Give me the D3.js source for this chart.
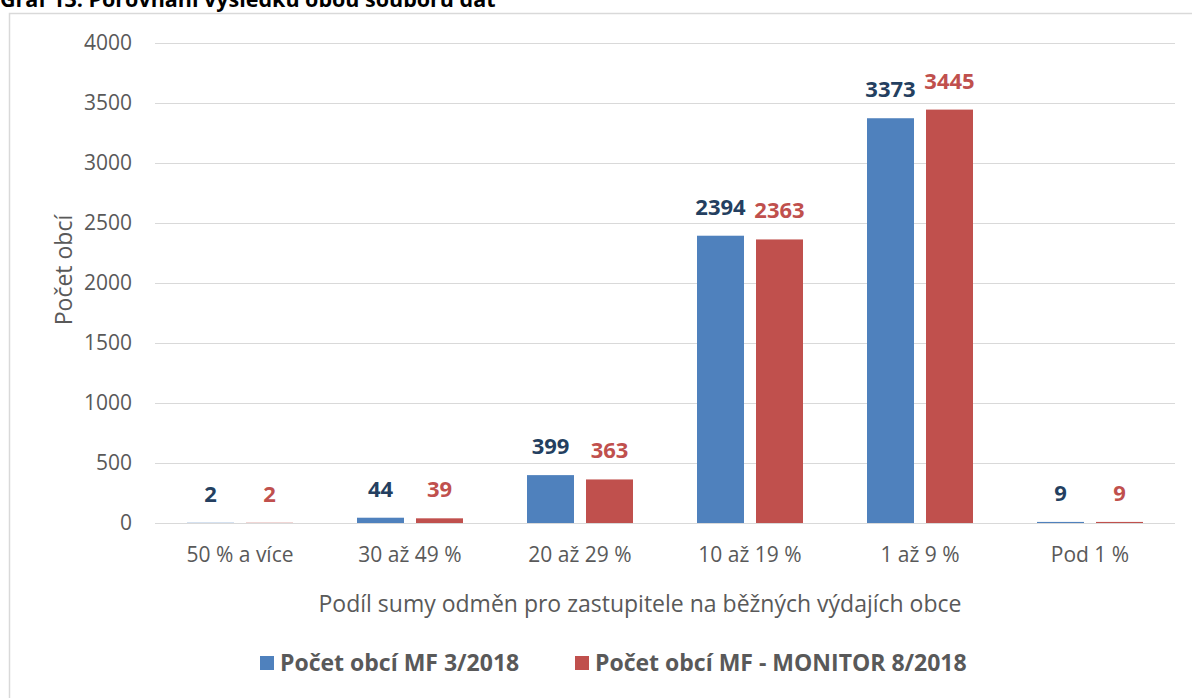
<!DOCTYPE html>
<html><head><meta charset="utf-8">
<script src="https://cdn.jsdelivr.net/npm/d3@7"></script>
<style>body{margin:0;background:#fff;overflow:hidden}</style>
</head><body>
<svg id="c" width="1192" height="698"></svg>
<script>
const categories = ["50 % a více","30 až 49 %","20 až 29 %","10 až 19 %","1 až 9 %","Pod 1 %"];
const seriesNames = ["Počet obcí MF 3/2018","Počet obcí MF - MONITOR 8/2018"];
const mf2018 = [2,44,399,2394,3373,9];
const monitor2018 = [2,39,363,2363,3445,9];
const yTicks = [0,500,1000,1500,2000,2500,3000,3500,4000];
const barColors = ["#4F81BD","#C0504D"];
const labelColors = ["#243F60","#C0504D"];
const FONT = "'Open Sans', sans-serif";

const svg = d3.select("#c");
// title (cut at top)
svg.append("text").attr("x",0).attr("y",7).attr("font-family",FONT).attr("font-weight","bold")
  .attr("font-size",21.5).attr("fill","#000").text("Graf 13: Porovnání výsledků obou souborů dat");
// chart border
svg.append("rect").attr("x",9.5).attr("y",13.5).attr("width",1200).attr("height",700)
  .attr("fill","none").attr("stroke","#d9d9d9").attr("stroke-width",1.5);

const x0 = d3.scaleBand().domain(categories).range([155,1175]).paddingInner(0).paddingOuter(0);
const y = d3.scaleLinear().domain([0,4000]).range([523,43]);
const bw = 47, gap = 12;
const x1 = d3.scaleOrdinal().domain([0,1]).range([-(gap/2+bw), gap/2]);

// gridlines
svg.append("g").selectAll("line").data(yTicks).join("line")
  .attr("x1",155).attr("x2",1175).attr("y1",d=>y(d)+0.5).attr("y2",d=>y(d)+0.5)
  .attr("stroke","#d9d9d9").attr("stroke-width",1.2);

// y axis labels
const yAxis = d3.axisLeft(y).tickValues(yTicks).tickFormat(d3.format("d")).tickSize(0).tickPadding(0);
const ga = svg.append("g").attr("transform","translate(132,0)").call(yAxis);
ga.select(".domain").remove();
ga.selectAll("text").attr("font-family",FONT).attr("font-size",21).attr("fill","#595959");

// x axis labels
const xAxis = d3.axisBottom(x0).tickSize(0).tickPadding(0);
const gx = svg.append("g").attr("transform","translate(0,547)").call(xAxis);
gx.select(".domain").remove();
gx.selectAll("text").attr("font-family",FONT).attr("font-size",21).attr("fill","#595959").attr("dy","0.71em");

const series = [mf2018, monitor2018];
series.forEach((vals,si)=>{
  const g = svg.append("g");
  g.selectAll("rect").data(vals).join("rect")
    .attr("x",(d,i)=>x0(categories[i])+x0.bandwidth()/2+x1(si))
    .attr("width",bw)
    .attr("y",d=>y(d)).attr("height",d=>y(0)-y(d))
    .attr("fill",barColors[si]);
  g.selectAll("text").data(vals).join("text")
    .attr("x",(d,i)=>x0(categories[i])+x0.bandwidth()/2+x1(si)+bw/2)
    .attr("y",d=>y(d)-21)
    .attr("text-anchor","middle").attr("font-family",FONT).attr("font-weight","bold")
    .attr("font-size",22).attr("fill",labelColors[si]).text(d=>d);
});

// axis titles
svg.append("text").attr("transform","translate(72,270) rotate(-90)").attr("text-anchor","middle")
  .attr("font-family",FONT).attr("font-size",23).attr("fill","#595959").text("Počet obcí");
svg.append("text").attr("x",640).attr("y",612).attr("text-anchor","middle")
  .attr("font-family",FONT).attr("font-size",23).attr("fill","#595959")
  .text("Podíl sumy odměn pro zastupitele na běžných výdajích obce");

// legend
const legX = [260,575];
seriesNames.forEach((n,i)=>{
  svg.append("rect").attr("x",legX[i]).attr("y",656).attr("width",14).attr("height",14).attr("fill",barColors[i]);
  svg.append("text").attr("x",legX[i]+20).attr("y",671).attr("font-family",FONT).attr("font-weight","bold")
    .attr("font-size",23).attr("fill","#595959").text(n);
});
</script>
</body></html>
